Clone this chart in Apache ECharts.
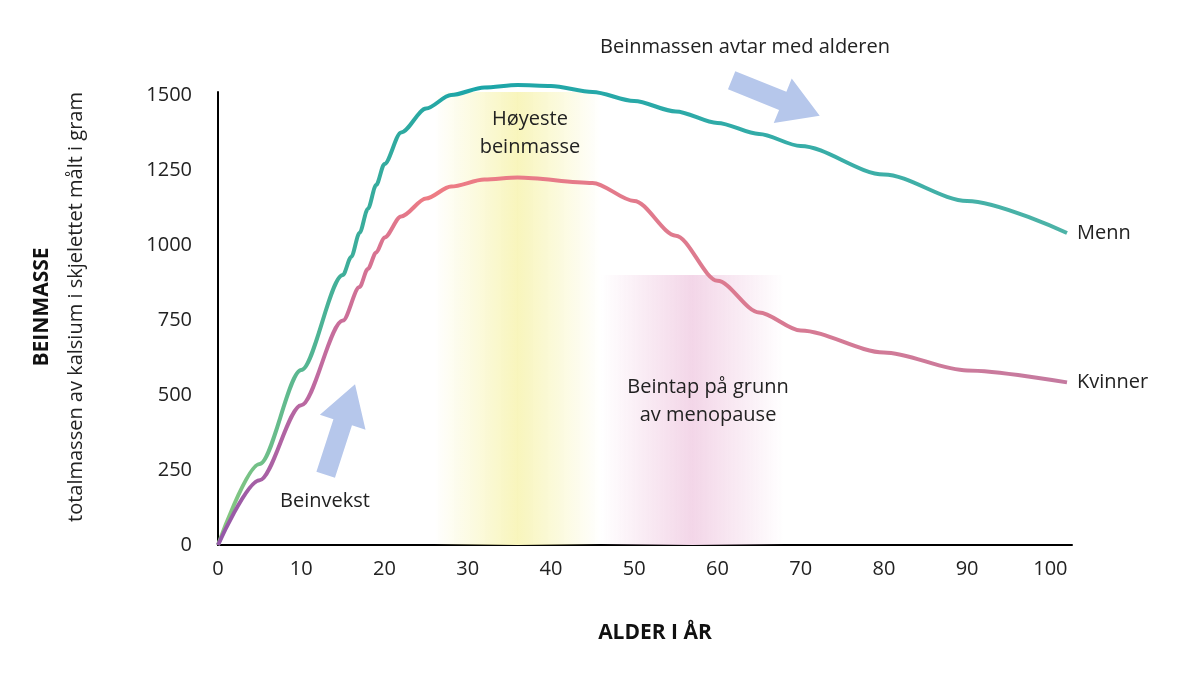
<!DOCTYPE html><html><head><meta charset="utf-8"><script src="https://cdn.jsdelivr.net/npm/echarts@6/dist/echarts.min.js"></script>
<style>body{margin:0;background:#fff}#c{width:1200px;height:674px}</style></head><body><div id="c"></div><script>
const ages=[0,5,10,15,16,17,18,19,20,22,25,28,32,36,40,45,50,55,60,65,70,80,90,102];
const menn=[0,270,583,900,960,1040,1120,1200,1270,1375,1455,1500,1525,1533,1530,1510,1480,1445,1407,1370,1330,1235,1147,1040];
const kvAges=[0,5,10,15,17,18,19,20,22,25,28,32,36,45,50,55,60,65,70,80,90,102];
const kvinner=[0,216,466,748,860,920,975,1025,1095,1155,1195,1218,1225,1207,1147,1031,881,775,715,642,582,542];
const xTicks=[0,10,20,30,40,50,60,70,80,90,100];
const yTicks=[0,250,500,750,1000,1250,1500];
const F='"Open Sans", Lato, sans-serif';
const ARROW='path://M30,0 L62,42 L43,42 L43,100 L17,100 L17,42 L-2,42 Z';
const ch=echarts.init(document.getElementById('c'));
const hg=(c)=>({type:'linear',x:0,y:0,x2:1,y2:0,colorStops:[{offset:0,color:c+'00'},{offset:0.5,color:c+'ff'},{offset:1,color:c+'00'}]});
const T=(x,y,text,extra)=>Object.assign({type:'text',z:100,x,y,style:{text,font:'20px '+F,fill:'#222',align:'center',verticalAlign:'middle',lineHeight:28}},extra||{});
ch.setOption({
 animation:false,
 grid:{left:218,right:128,top:92,bottom:129},
 xAxis:{type:'value',min:0,max:102.6,interval:10,axisLine:{lineStyle:{color:'#000',width:2}},axisTick:{show:false},splitLine:{show:false},
  axisLabel:{fontSize:20,color:'#222',fontFamily:F,margin:14,formatter:v=>xTicks.includes(v)?String(v):''}},
 yAxis:{type:'value',min:0,max:1510,interval:250,axisLine:{show:true,lineStyle:{color:'#000',width:2}},axisTick:{show:false},splitLine:{show:false},
  axisLabel:{fontSize:20,color:'#222',fontFamily:F,margin:26,formatter:v=>yTicks.includes(v)?String(v):''}},
 series:[
  {type:'line',smooth:0.3,smoothMonotone:'x',symbol:'none',clip:false,z:5,data:ages.map((a,i)=>[a,menn[i]]),
   lineStyle:{width:4,color:{type:'linear',x:0,y:0,x2:1,y2:0,colorStops:[{offset:0,color:'#8cc97f'},{offset:0.15,color:'#3fae9a'},{offset:0.3,color:'#1ba5a8'},{offset:1,color:'#4db3a7'}]}},
   endLabel:{show:true,formatter:'Menn',fontSize:20,color:'#222',fontFamily:F,distance:10},
   markArea:{silent:true,z:1,data:[
     [{xAxis:26,yAxis:0,itemStyle:{color:hg('#f8f5bc')}},{xAxis:46,yAxis:1525}],
     [{xAxis:46,yAxis:0,itemStyle:{color:hg('#f3d6e8')}},{xAxis:68,yAxis:900}]
   ]},
   markPoint:{silent:true,symbol:ARROW,itemStyle:{color:'#b6c7eb'},label:{show:false},data:[
     {coord:[14.7,385],symbolSize:[48,95],symbolRotate:-18},
     {coord:[67,1490],symbolSize:[48,95],symbolRotate:-112}
   ]}},
  {type:'line',smooth:0.3,smoothMonotone:'x',symbol:'none',z:5,data:kvAges.map((a,i)=>[a,kvinner[i]]),
   lineStyle:{width:4,color:{type:'linear',x:0,y:0,x2:1,y2:0,colorStops:[{offset:0,color:'#9257a8'},{offset:0.12,color:'#c06ba0'},{offset:0.25,color:'#ee7c84'},{offset:0.45,color:'#e47a8a'},{offset:1,color:'#c47aa0'}]}},
   endLabel:{show:true,formatter:'Kvinner',fontSize:20,color:'#222',fontFamily:F,distance:10}}
 ],
 graphic:[
  T(745,47,'Beinmassen avtar med alderen'),
  T(530,133,'Høyeste\nbeinmasse'),
  T(708,401,'Beintap på grunn\nav menopause'),
  T(325,501,'Beinvekst'),
  T(655,633,'ALDER I ÅR',{style:{text:'ALDER I ÅR',font:'bold 21px '+F,fill:'#111',align:'center',verticalAlign:'middle'}}),
  T(42,307,'BEINMASSE',{rotation:Math.PI/2,style:{text:'BEINMASSE',font:'bold 21px '+F,fill:'#111',align:'center',verticalAlign:'middle'}}),
  T(76,307,'',{rotation:Math.PI/2,style:{text:'totalmassen av kalsium i skjelettet målt i gram',font:'20px '+F,fill:'#222',align:'center',verticalAlign:'middle'}})
 ]
});
</script></body></html>
